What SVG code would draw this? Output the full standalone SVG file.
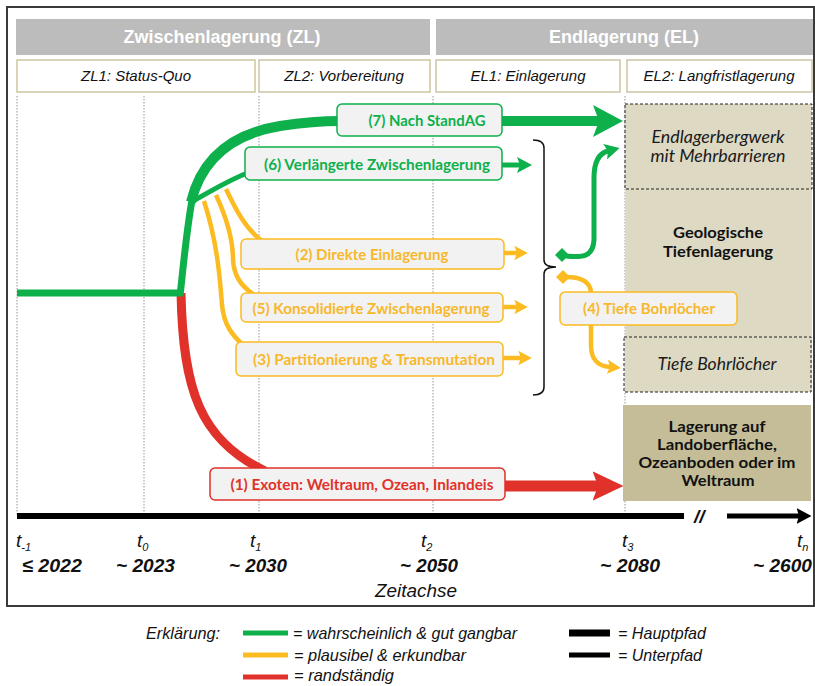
<svg xmlns="http://www.w3.org/2000/svg" width="815" height="686" viewBox="0 0 815 686">
<style>
.hdr{fill:#bcbcbc}
.hdrt{font-family:"Liberation Sans",Arial,sans-serif;font-weight:bold;font-size:18px;fill:#fff;text-anchor:middle}
.sub{fill:#fff;stroke:#cdc5a3;stroke-width:1.5}
.subt{font-family:"Liberation Sans",Arial,sans-serif;font-style:italic;font-size:15px;fill:#111;text-anchor:middle}
.dot{stroke:#a8a8a8;stroke-width:1.2;stroke-dasharray:1.5 1.5;fill:none}
.g{stroke:#0db04b;fill:none}
.y{stroke:#fbbb21;fill:none}
.r{stroke:#e0322a;fill:none}
.box{fill:#f2f2f2;stroke-width:1.5}
.bg{stroke:#0db04b}.by{stroke:#fbbb21}.br{stroke:#e0322a}
.lbl{font-family:Lato,"Noto Sans",sans-serif;font-weight:bold;font-size:15px;text-anchor:middle}
.tg{fill:#0db04b}.ty{fill:#f8b82c}.tr{fill:#e0322a}
.col{fill:#ddd9c3}
.dash{fill:none;stroke:#222;stroke-width:1;stroke-dasharray:3 2}
.it{font-family:Lato,"Noto Sans",sans-serif;font-style:italic;font-size:16.5px;fill:#1a1a1a;text-anchor:middle}
.bd{font-family:Lato,"Noto Sans",sans-serif;font-weight:bold;font-size:15px;fill:#111;text-anchor:middle}
.tl{font-family:"Liberation Sans",Arial,sans-serif;font-style:italic;font-size:19px;fill:#111}
.yr{font-family:"Liberation Sans",Arial,sans-serif;font-style:italic;font-weight:bold;font-size:19px;fill:#111}
.lg{font-family:"Liberation Sans",Arial,sans-serif;font-style:italic;font-size:17px;fill:#111}
</style>
<defs>
<marker id="ag" viewBox="0 0 3 3.2" refX="0.6" refY="1.6" markerWidth="3" markerHeight="3.2" orient="auto" markerUnits="strokeWidth"><path d="M0,0 L3,1.6 L0,3.2 L0.6,1.6 z" fill="#0db04b"/></marker>
<marker id="ay" viewBox="0 0 3 3.2" refX="0.6" refY="1.6" markerWidth="3" markerHeight="3.2" orient="auto" markerUnits="strokeWidth"><path d="M0,0 L3,1.6 L0,3.2 L0.6,1.6 z" fill="#fbbb21"/></marker>
<marker id="ar" viewBox="0 0 2.8 2.7" refX="0.5" refY="1.35" markerWidth="2.8" markerHeight="2.7" orient="auto" markerUnits="strokeWidth"><path d="M0,0 L2.8,1.35 L0,2.7 L0.5,1.35 z" fill="#e0322a"/></marker>
<marker id="ak" viewBox="0 0 3 3.2" refX="0.5" refY="1.6" markerWidth="3" markerHeight="3.2" orient="auto" markerUnits="strokeWidth"><path d="M0,0 L3,1.6 L0,3.2 L0.5,1.6 z" fill="#000"/></marker>
</defs>
<rect x="0" y="0" width="815" height="686" fill="#fff"/>
<rect x="7" y="7" width="807" height="599" fill="#fff" stroke="#3a3a3a" stroke-width="2"/>

<g id="header">
<rect class="hdr" x="16" y="19" width="414" height="36"/>
<text class="hdrt" x="222" y="43">Zwischenlagerung (ZL)</text>
<rect class="hdr" x="436" y="19" width="377" height="36"/>
<text class="hdrt" x="624" y="43">Endlagerung (EL)</text>
</g>
<g id="phases">
<rect class="sub" x="17" y="60" width="238" height="32"/>
<text class="subt" x="136" y="81">ZL1: Status-Quo</text>
<rect class="sub" x="259" y="60" width="171" height="32"/>
<text class="subt" x="344" y="81">ZL2: Vorbereitung</text>
<rect class="sub" x="436" y="60" width="184" height="32"/>
<text class="subt" x="528" y="81">EL1: Einlagerung</text>
<rect class="sub" x="627" y="60" width="185" height="32"/>
<text class="subt" x="719" y="81">EL2: Langfristlagerung</text>
</g>

<g id="gridlines">
<line class="dot" x1="17" y1="96" x2="17" y2="516"/>
<line class="dot" x1="144" y1="96" x2="144" y2="516"/>
<line class="dot" x1="259" y1="96" x2="259" y2="516"/>
<line class="dot" x1="433" y1="96" x2="433" y2="516"/>
<line class="dot" x1="625" y1="96" x2="625" y2="516"/>
</g>

<g id="geologische-tiefenlagerung">
<rect class="col" x="625" y="104" width="187" height="288"/>
<text class="bd" x="718" y="238" textLength="90" lengthAdjust="spacingAndGlyphs">Geologische</text>
<text class="bd" x="718" y="257" textLength="110" lengthAdjust="spacingAndGlyphs">Tiefenlagerung</text>
</g>
<g id="endlagerbergwerk">
<rect class="dash" x="625" y="104" width="187" height="85"/>
<text class="it" x="718" y="143" textLength="133" lengthAdjust="spacingAndGlyphs">Endlagerbergwerk</text>
<text class="it" x="718" y="162" textLength="135" lengthAdjust="spacingAndGlyphs">mit Mehrbarrieren</text>
</g>
<g id="tiefe-bohrloecher-ziel">
<rect class="dash" x="624" y="337" width="187" height="55"/>
<text class="it" x="717" y="370" textLength="119" lengthAdjust="spacingAndGlyphs">Tiefe Bohrlöcher</text>
</g>
<g id="lagerung-oberflaeche">
<rect x="623" y="405" width="188" height="96" fill="#c4bd97"/>
<text class="bd" x="717" y="432" textLength="97" lengthAdjust="spacingAndGlyphs">Lagerung auf</text>
<text class="bd" x="717" y="450" textLength="120" lengthAdjust="spacingAndGlyphs">Landoberfläche,</text>
<text class="bd" x="717" y="468" textLength="157" lengthAdjust="spacingAndGlyphs">Ozeanboden oder im</text>
<text class="bd" x="718" y="486" textLength="73" lengthAdjust="spacingAndGlyphs">Weltraum</text>
</g>

<g id="connectors">
<path class="r" stroke-width="9" d="M181,293 C183,390 200,440 265,471"/>
<path class="r" stroke-width="11" d="M505,486 L598,486" marker-end="url(#ar)"/>
<path class="y" stroke-width="4.5" d="M226,189 C236,210 245,228 262,241"/>
<path class="y" stroke-width="4.5" d="M216,195 C230,225 233,245 233,260 C234,275 240,285 253,294"/>
<path class="y" stroke-width="4.5" d="M204,201 C218,245 220,280 222,305 C224,325 232,335 243,345"/>
<path class="g" stroke-width="7" d="M17,293 L181,293"/>
<path class="g" stroke-width="7" d="M180,296 C184,260 187,225 193,195"/>
<path class="g" stroke-width="5" d="M193,201 C210,192 228,180 250,172"/>
<path class="g" stroke-width="10" d="M191,202 C200,165 225,135 280,126 C300,123 320,121 340,121 L599,121" marker-end="url(#ag)"/>
<path class="g" stroke-width="5" d="M502,165 L520,165" marker-end="url(#ag)"/>
<path class="y" stroke-width="4.5" d="M504,253 L517,253" marker-end="url(#ay)"/>
<path class="y" stroke-width="4.5" d="M503,307 L517,307" marker-end="url(#ay)"/>
<path class="y" stroke-width="4.5" d="M503,358 L521,358" marker-end="url(#ay)"/>
<path d="M533,140 Q544,140 544,148 L544,260 Q544,267 556,267 Q544,267 544,274 L544,387 Q544,395 533,395" fill="none" stroke="#111" stroke-width="1.5"/>
<path class="g" stroke-width="5" d="M566,256 C584,258 593,256 594,240 L594,178 C594,160 600,153 608,151" marker-end="url(#ag)"/>
<polygon points="562,248 569,255 562,262 555,255" fill="#0db04b"/>
<path class="y" stroke-width="4.5" d="M566,277 C582,277 590,282 591,292 L591,345 C591,360 598,366 610,367" marker-end="url(#ay)"/>
<polygon points="563,270 570,277 563,284 556,277" fill="#fbbb21"/>
</g>

<g id="n7">
<rect class="box bg" x="337" y="104" width="165" height="32" rx="5"/>
<text class="lbl tg" x="427" y="126" textLength="117" lengthAdjust="spacingAndGlyphs">(7) Nach StandAG</text>
</g>
<g id="n6">
<rect class="box bg" x="245" y="147" width="257" height="33" rx="5"/>
<text class="lbl tg" x="377" y="170" textLength="226" lengthAdjust="spacingAndGlyphs">(6) Verlängerte Zwischenlagerung</text>
</g>
<g id="n2">
<rect class="box by" x="241" y="239" width="263" height="30" rx="5"/>
<text class="lbl ty" x="372" y="260" textLength="153" lengthAdjust="spacingAndGlyphs">(2) Direkte Einlagerung</text>
</g>
<g id="n5">
<rect class="box by" x="241" y="293" width="262" height="29" rx="5"/>
<text class="lbl ty" x="371" y="314" textLength="237" lengthAdjust="spacingAndGlyphs">(5) Konsolidierte Zwischenlagerung</text>
</g>
<g id="n3">
<rect class="box by" x="236" y="342" width="267" height="34" rx="5"/>
<text class="lbl ty" x="374" y="365" textLength="242" lengthAdjust="spacingAndGlyphs">(3) Partitionierung &amp; Transmutation</text>
</g>
<g id="n1">
<rect class="box br" x="210" y="468" width="295" height="32" rx="5"/>
<text class="lbl tr" x="362" y="490" textLength="263" lengthAdjust="spacingAndGlyphs">(1) Exoten: Weltraum, Ozean, Inlandeis</text>
</g>
<g id="n4">
<rect class="box by" x="560" y="292" width="177" height="33" rx="5"/>
<text class="lbl ty" x="649" y="314" textLength="132" lengthAdjust="spacingAndGlyphs">(4) Tiefe Bohrlöcher</text>
</g>

<g id="axis">
<line x1="17" y1="516" x2="684" y2="516" stroke="#000" stroke-width="6"/>
<text class="yr" x="694" y="523" font-size="18">//</text>
<path d="M727,516 L799,516" stroke="#000" stroke-width="5" marker-end="url(#ak)"/>
<text class="tl" x="16" y="547">t<tspan font-size="11" dy="4">-1</tspan></text>
<text class="tl" x="137" y="547">t<tspan font-size="11" dy="4">0</tspan></text>
<text class="tl" x="250" y="547">t<tspan font-size="11" dy="4">1</tspan></text>
<text class="tl" x="421" y="547">t<tspan font-size="11" dy="4">2</tspan></text>
<text class="tl" x="622" y="547">t<tspan font-size="11" dy="4">3</tspan></text>
<text class="tl" x="797" y="547">t<tspan font-size="11" dy="4">n</tspan></text>
<text class="yr" x="22" y="572" textLength="60" lengthAdjust="spacingAndGlyphs">≤ 2022</text>
<text class="yr" x="116" y="572" textLength="59" lengthAdjust="spacingAndGlyphs">~ 2023</text>
<text class="yr" x="229" y="572" textLength="58" lengthAdjust="spacingAndGlyphs">~ 2030</text>
<text class="yr" x="400" y="572" textLength="58" lengthAdjust="spacingAndGlyphs">~ 2050</text>
<text class="yr" x="600" y="572" textLength="60" lengthAdjust="spacingAndGlyphs">~ 2080</text>
<text class="yr" x="753" y="572" textLength="59" lengthAdjust="spacingAndGlyphs">~ 2600</text>
<text class="tl" x="375" y="597" textLength="82" lengthAdjust="spacingAndGlyphs">Zeitachse</text>
</g>

<g id="legend">
<text class="lg" x="146" y="639" textLength="74" lengthAdjust="spacingAndGlyphs">Erklärung:</text>
<line x1="243" y1="633" x2="288" y2="633" stroke="#0db04b" stroke-width="5"/>
<text class="lg" x="293" y="639" textLength="224" lengthAdjust="spacingAndGlyphs">= wahrscheinlich &amp; gut gangbar</text>
<line x1="243" y1="655" x2="288" y2="655" stroke="#fbbb21" stroke-width="5"/>
<text class="lg" x="294" y="661" textLength="172" lengthAdjust="spacingAndGlyphs">= plausibel &amp; erkundbar</text>
<line x1="243" y1="677" x2="288" y2="677" stroke="#e0322a" stroke-width="5"/>
<text class="lg" x="294" y="681" textLength="100" lengthAdjust="spacingAndGlyphs">= randständig</text>
<line x1="569" y1="633" x2="610" y2="633" stroke="#000" stroke-width="7"/>
<text class="lg" x="618" y="639" textLength="88" lengthAdjust="spacingAndGlyphs">= Hauptpfad</text>
<line x1="569" y1="655" x2="610" y2="655" stroke="#000" stroke-width="5"/>
<text class="lg" x="618" y="661" textLength="84" lengthAdjust="spacingAndGlyphs">= Unterpfad</text>
</g>
</svg>
